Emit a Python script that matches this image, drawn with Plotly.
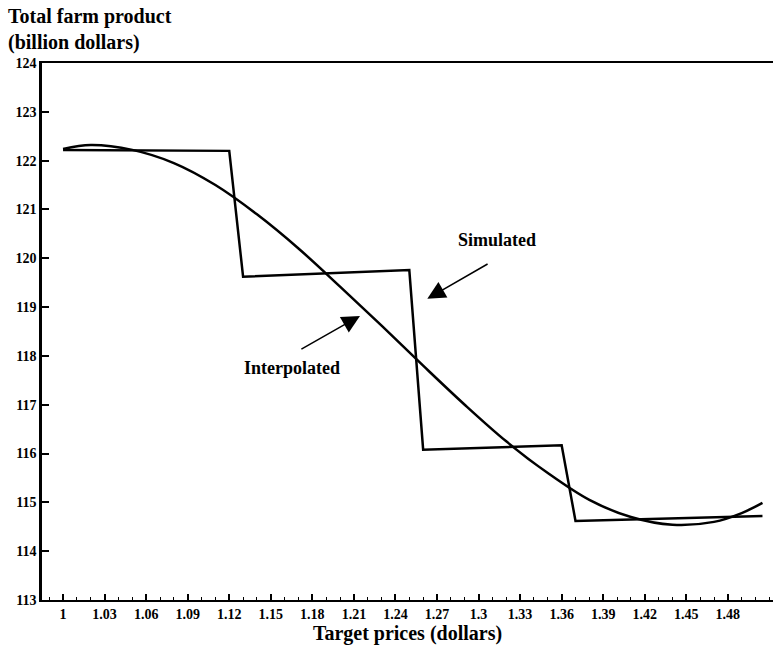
import plotly.graph_objects as go

# Data
sim_x = [1.0, 1.12, 1.13, 1.25, 1.26, 1.36, 1.37, 1.505]
sim_y = [122.22, 122.2, 119.62, 119.76, 116.08, 116.17, 114.62, 114.72]

interp_x = [1.0, 1.02, 1.05, 1.08, 1.11, 1.14, 1.17, 1.20, 1.23, 1.26,
            1.29, 1.32, 1.35, 1.38, 1.41, 1.44, 1.47, 1.49, 1.505]
interp_y = [122.24, 122.32, 122.22, 121.95, 121.5, 120.9, 120.2, 119.42, 118.62, 117.8,
            117.0, 116.25, 115.6, 115.05, 114.7, 114.54, 114.6, 114.78, 114.99]

x_ticks = [1.0, 1.03, 1.06, 1.09, 1.12, 1.15, 1.18, 1.21, 1.24, 1.27, 1.3,
           1.33, 1.36, 1.39, 1.42, 1.45, 1.48]
x_tick_text = ["1", "1.03", "1.06", "1.09", "1.12", "1.15", "1.18", "1.21", "1.24",
               "1.27", "1.3", "1.33", "1.36", "1.39", "1.42", "1.45", "1.48"]
y_ticks = [113, 114, 115, 116, 117, 118, 119, 120, 121, 122, 123, 124]

FONT = "Liberation Serif"

fig = go.Figure()
fig.add_trace(go.Scatter(x=sim_x, y=sim_y, mode="lines", name="Simulated",
                         line=dict(color="black", width=2.5)))
fig.add_trace(go.Scatter(x=interp_x, y=interp_y, mode="lines", name="Interpolated",
                         line=dict(color="black", width=2.5, shape="spline", smoothing=1.0)))

# Arrows
fig.add_annotation(x=1.263, y=119.17, ax=1.3076, ay=119.9, xref="x", yref="y",
                   axref="x", ayref="y", text="", showarrow=True,
                   arrowhead=2, arrowsize=2.4, arrowwidth=1.5, arrowcolor="black")
fig.add_annotation(x=1.2144, y=118.82, ax=1.171, ay=118.12, xref="x", yref="y",
                   axref="x", ayref="y", text="", showarrow=True,
                   arrowhead=2, arrowsize=2.4, arrowwidth=1.5, arrowcolor="black")
fig.add_annotation(x=1.313, y=120.38, xref="x", yref="y", text="<b>Simulated</b>",
                   showarrow=False, font=dict(family=FONT, size=18, color="black"))
fig.add_annotation(x=1.165, y=117.75, xref="x", yref="y", text="<b>Interpolated</b>",
                   showarrow=False, font=dict(family=FONT, size=18, color="black"))

# Y axis title (two lines, top-left)
fig.add_annotation(x=0, y=1, xref="paper", yref="paper", xanchor="left", yanchor="top",
                   xshift=-36, yshift=60, align="left",
                   text="<b>Total farm product</b><br><b>(billion dollars)</b>",
                   showarrow=False, font=dict(family=FONT, size=20, color="black"))

fig.update_layout(
    width=773, height=653,
    margin=dict(l=42, r=0, t=63, b=53),
    paper_bgcolor="white", plot_bgcolor="white",
    showlegend=False,
    font=dict(family=FONT, color="black"),
)
fig.update_xaxes(
    range=[0.9848, 1.5126],
    tickvals=x_ticks, ticktext=x_tick_text,
    ticks="inside", ticklen=6, tickwidth=1.5, tickcolor="black",
    minor=dict(dtick=0.01, tick0=1.0, ticks="inside", ticklen=3, tickcolor="black", tickwidth=1.2),
    showline=True, linecolor="black", linewidth=2, mirror=True,
    showgrid=False, zeroline=False,
    tickfont=dict(family=FONT, size=14, color="black", weight="bold"),
    title=dict(text="<b>Target prices (dollars)</b>", font=dict(family=FONT, size=20, color="black"),
               standoff=4),
)
fig.update_yaxes(
    range=[113, 124],
    tickvals=y_ticks,
    ticks="inside", ticklen=7, tickwidth=1.5, tickcolor="black",
    showline=True, linecolor="black", linewidth=2.5,
    showgrid=False, zeroline=False,
    tickfont=dict(family=FONT, size=14, color="black", weight="bold"),
)

fig.write_html("out.html")
